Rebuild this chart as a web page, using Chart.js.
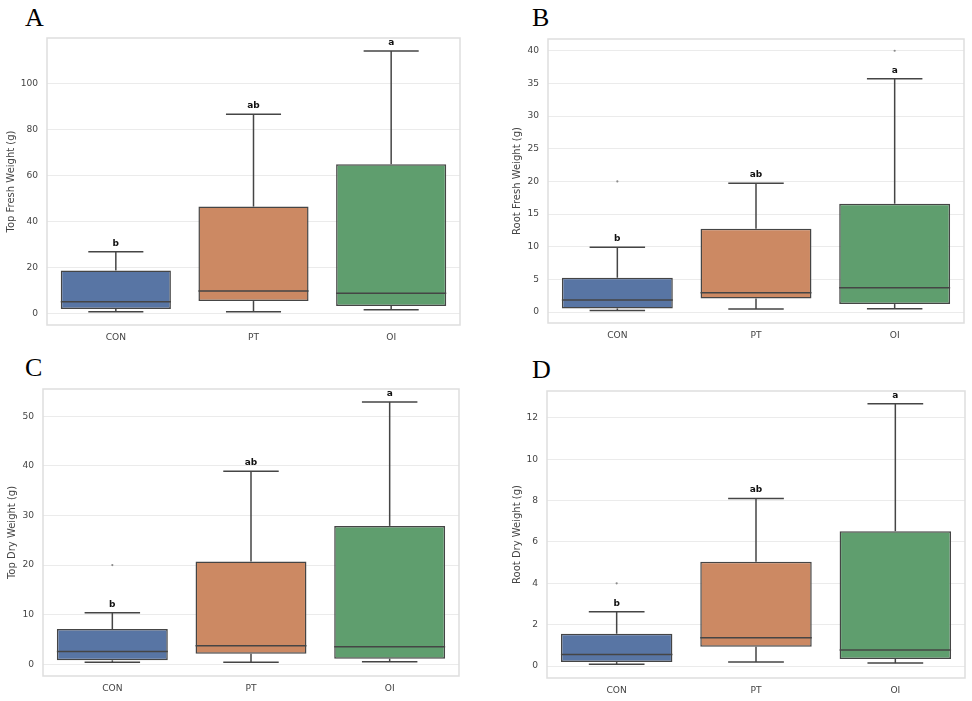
<!DOCTYPE html>
<html><head><meta charset="utf-8">
<script src="https://cdn.jsdelivr.net/npm/chart.js@4.4.1/dist/chart.umd.min.js"></script>
<style>
html,body{margin:0;padding:0;background:#fff;}
body{width:972px;height:701px;position:relative;overflow:hidden;}
.panel{position:absolute;}
.lbl{position:absolute;font-family:"Liberation Serif","DejaVu Serif",serif;font-size:26px;line-height:26px;color:#000;}
</style></head><body>
<div class="lbl" style="left:25px;top:4.7px">A</div>
<div class="lbl" style="left:532px;top:5.4px">B</div>
<div class="lbl" style="left:25px;top:355.4px">C</div>
<div class="lbl" style="left:532px;top:357px">D</div>
<div class="panel" style="left:0;top:0"><canvas id="cA" width="486" height="350"></canvas></div>
<div class="panel" style="left:486px;top:0"><canvas id="cB" width="486" height="350"></canvas></div>
<div class="panel" style="left:0;top:350px"><canvas id="cC" width="486" height="351"></canvas></div>
<div class="panel" style="left:486px;top:350px"><canvas id="cD" width="486" height="351"></canvas></div>
<script>
// ---------- data ----------
const groups = ['CON', 'PT', 'OI'];
const sigLetters = ['b', 'ab', 'a'];

// A: Top Fresh Weight (g)
const topFreshLow    = [0.9, 0.9, 1.7];
const topFreshQ1     = [2.0, 5.5, 3.3];
const topFreshMedian = [5.2, 9.9, 8.9];
const topFreshQ3     = [18.8, 46.5, 64.9];
const topFreshHigh   = [26.9, 86.6, 114.1];
const topFreshOutliers = [[], [], []];
const topFreshTicks  = [0, 20, 40, 60, 80, 100];

// B: Root Fresh Weight (g)
const rootFreshLow    = [0.25, 0.46, 0.5];
const rootFreshQ1     = [0.55, 2.08, 1.22];
const rootFreshMedian = [1.84, 2.95, 3.72];
const rootFreshQ3     = [5.25, 12.75, 16.58];
const rootFreshHigh   = [9.9, 19.7, 35.7];
const rootFreshOutliers = [[20.0], [], [40.0]];
const rootFreshTicks  = [0, 5, 10, 15, 20, 25, 30, 35, 40];

// C: Top Dry Weight (g)
const topDryLow    = [0.4, 0.4, 0.53];
const topDryQ1     = [0.8, 2.15, 1.13];
const topDryMedian = [2.6, 3.75, 3.55];
const topDryQ3     = [7.1, 20.7, 27.9];
const topDryHigh   = [10.4, 38.9, 52.9];
const topDryOutliers = [[20.0], [], []];
const topDryTicks  = [0, 10, 20, 30, 40, 50];

// D: Root Dry Weight (g)
const rootDryLow    = [0.08, 0.19, 0.14];
const rootDryQ1     = [0.19, 0.93, 0.34];
const rootDryMedian = [0.56, 1.37, 0.77];
const rootDryQ3     = [1.56, 5.04, 6.52];
const rootDryHigh   = [2.62, 8.1, 12.68];
const rootDryOutliers = [[4.0], [], []];
const rootDryTicks  = [0, 2, 4, 6, 8, 10, 12];

// ---------- style / layout ----------
const boxFill = ['#5875a4', '#cc8963', '#5f9e6e'];
const lineCol = '#454545';
const textCol = '#444';

const panels = [
  {id:'cA', title:'Top Fresh Weight (g)', low:topFreshLow, q1:topFreshQ1, med:topFreshMedian, q3:topFreshQ3, high:topFreshHigh, out:topFreshOutliers, ticks:topFreshTicks, min:-4.9, max:119.7, w:486, h:350, area:{left:47,right:460,top:38,bottom:325}, titlePad:5},
  {id:'cB', title:'Root Fresh Weight (g)', low:rootFreshLow, q1:rootFreshQ1, med:rootFreshMedian, q3:rootFreshQ3, high:rootFreshHigh, out:rootFreshOutliers, ticks:rootFreshTicks, min:-1.68, max:41.8, w:486, h:350, area:{left:62,right:478,top:39,bottom:323}, titlePad:25.7},
  {id:'cC', title:'Top Dry Weight (g)', low:topDryLow, q1:topDryQ1, med:topDryMedian, q3:topDryQ3, high:topDryHigh, out:topDryOutliers, ticks:topDryTicks, min:-2.36, max:55.5, w:486, h:351, area:{left:43,right:459,top:39,bottom:326}, titlePad:6.7},
  {id:'cD', title:'Root Dry Weight (g)', low:rootDryLow, q1:rootDryQ1, med:rootDryMedian, q3:rootDryQ3, high:rootDryHigh, out:rootDryOutliers, ticks:rootDryTicks, min:-0.58, max:13.3, w:486, h:351, area:{left:61,right:479,top:41,bottom:328}, titlePad:25.7}
];

function boxPlugin(p) {
  return {
    id: 'boxExtras',
    afterDatasetsDraw(chart) {
      const {ctx, scales: {x, y}, chartArea: a} = chart;
      const meta = chart.getDatasetMeta(0);
      ctx.save();
      const seg = (x1, y1, x2, y2) => { ctx.beginPath(); ctx.moveTo(x1, y1); ctx.lineTo(x2, y2); ctx.stroke(); };
      groups.forEach((g, i) => {
        const cx = x.getPixelForValue(i);
        const hw = meta.data[i].width / 2;
        const yHigh = y.getPixelForValue(p.high[i]);
        const yLow = y.getPixelForValue(p.low[i]);
        const yQ1 = y.getPixelForValue(p.q1[i]);
        const yQ3 = y.getPixelForValue(p.q3[i]);
        const yMed = y.getPixelForValue(p.med[i]);
        ctx.strokeStyle = lineCol; ctx.lineWidth = 1.5;
        seg(cx, yQ3, cx, yHigh);
        seg(cx, yQ1, cx, yLow);
        seg(cx - hw / 2, yHigh, cx + hw / 2, yHigh);
        seg(cx - hw / 2, yLow, cx + hw / 2, yLow);
        seg(cx - hw, yMed, cx + hw, yMed);
        ctx.fillStyle = '#8a8a8a';
        p.out[i].forEach(v => {
          ctx.beginPath(); ctx.arc(cx, y.getPixelForValue(v), 1.1, 0, Math.PI * 2); ctx.fill();
        });
        ctx.fillStyle = '#111';
        ctx.font = 'bold 9px "DejaVu Sans"';
        ctx.textAlign = 'center'; ctx.textBaseline = 'middle';
        ctx.fillText(sigLetters[i], cx, yHigh - 8.5);
      });
      ctx.strokeStyle = '#dedede'; ctx.lineWidth = 1.5;
      ctx.strokeRect(a.left, a.top, a.right - a.left, a.bottom - a.top);
      ctx.restore();
    }
  };
}

panels.forEach(p => {
  new Chart(document.getElementById(p.id), {
    type: 'bar',
    data: {
      labels: groups,
      datasets: [{
        data: p.q1.map((v, i) => [v, p.q3[i]]),
        backgroundColor: boxFill,
        borderColor: lineCol,
        borderWidth: 1.5,
        borderSkipped: false,
        barPercentage: 0.8,
        categoryPercentage: 1
      }]
    },
    options: {
      responsive: false,
      animation: false,
      devicePixelRatio: 1,
      layout: {padding: {left: 0, top: p.area.top, right: p.w - p.area.right, bottom: 0}},
      plugins: {legend: {display: false}, tooltip: {enabled: false}},
      scales: {
        x: {
          grid: {display: false, drawTicks: false},
          border: {display: false},
          ticks: {font: {family: 'DejaVu Sans', size: 9.1}, color: textCol, padding: 7},
          afterFit: s => { s.height = p.h - p.area.bottom; }
        },
        y: {
          min: p.min, max: p.max,
          afterBuildTicks: s => { s.ticks = p.ticks.map(v => ({value: v})); },
          grid: {color: '#ebebeb', drawTicks: false, lineWidth: 1},
          border: {display: false},
          ticks: {font: {family: 'DejaVu Sans', size: 9.1}, color: textCol, padding: 9},
          title: {display: true, text: p.title, font: {family: 'DejaVu Sans', size: 10}, color: textCol, padding: {top: p.titlePad, bottom: 0}},
          afterFit: s => { s.width = p.area.left; }
        }
      }
    },
    plugins: [boxPlugin(p)]
  });
});
</script>
</body></html>
